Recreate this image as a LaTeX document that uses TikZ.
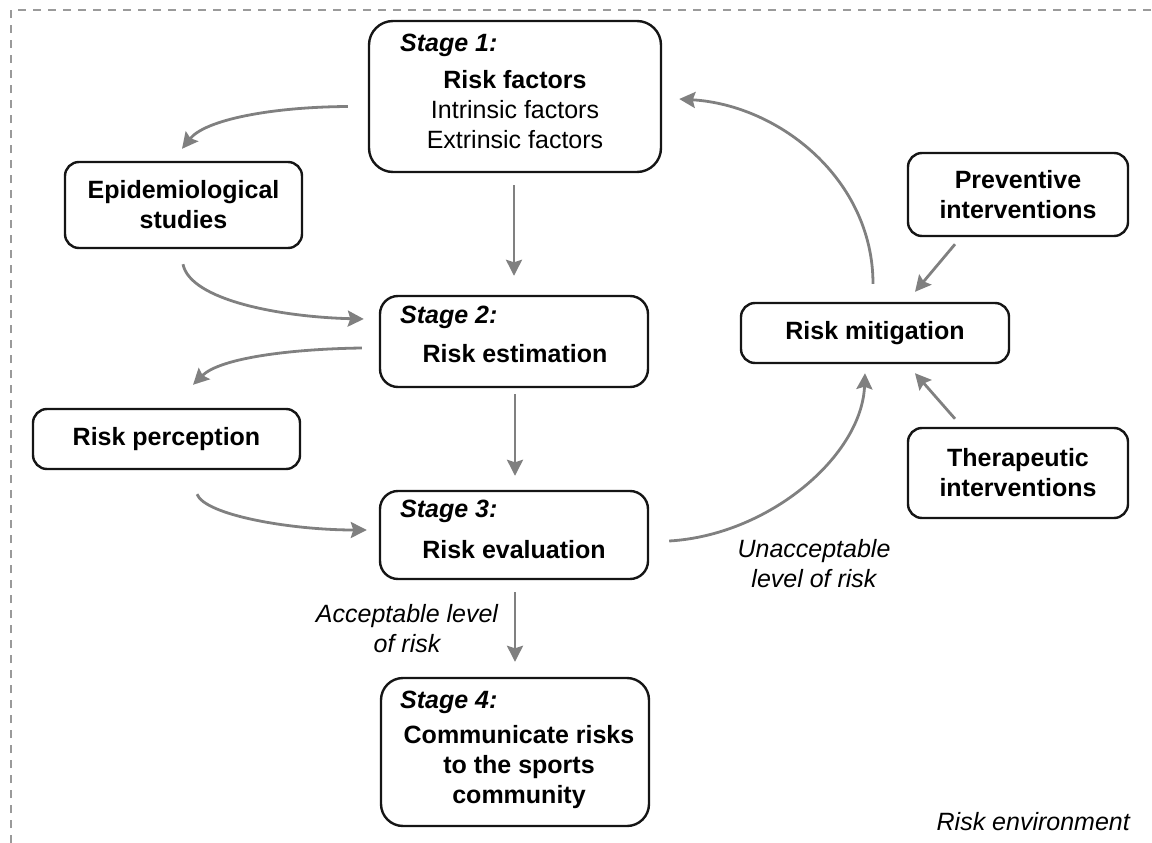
\documentclass[tikz,border=0pt]{standalone}
\usepackage{fontspec}
\setmainfont{Liberation Sans}
\usetikzlibrary{arrows.meta}
\definecolor{arrowgray}{HTML}{808080}
\definecolor{boxline}{HTML}{151515}
\definecolor{framegray}{HTML}{9A9A9A}

\begin{document}
\begin{tikzpicture}[x=1pt,y=-1pt,
  every node/.style={font=\fontsize{25}{30}\selectfont, inner sep=0pt},
  box/.style={draw=boxline, line width=2.4pt, rounded corners=#1, align=center,
    font=\fontsize{25}{30}\selectfont\bfseries},
  box/.default=14pt,
  flow/.style={draw=arrowgray, line width=2.8pt,
    -{Stealth[length=16pt,width=16pt,inset=2.5pt]}},
  stagetag/.style={anchor=base west, font=\fontsize{25}{30}\selectfont\bfseries\itshape},
  body/.style={anchor=base, align=center},
  note/.style={anchor=base, align=center, font=\fontsize{25}{30}\selectfont\itshape}
]
\useasboundingbox (0,0) rectangle (1152,843);

% dashed frame of the risk environment
\draw[framegray, line width=1.6pt, dash pattern=on 8pt off 7pt] (11,843) -- (11,10) -- (1152,10);

% stage boxes (multi-line texts are placed by the baseline of their last line)
\node[box=24pt, minimum width=292pt, minimum height=151pt] (s1) at (515,96.5) {};
\node[stagetag] (s1tag) at (400,52) {Stage 1:};
\node[body] (s1txt) at (515,148) {\textbf{Risk factors}\\Intrinsic factors\\Extrinsic factors};

\node[box=18pt, minimum width=268pt, minimum height=91pt] (s2) at (514,341.5) {};
\node[stagetag] (s2tag) at (400,323) {Stage 2:};
\node[body, font=\fontsize{25}{30}\selectfont\bfseries] (s2txt) at (515,362) {Risk estimation};

\node[box=18pt, minimum width=268pt, minimum height=88pt] (s3) at (514,535) {};
\node[stagetag] (s3tag) at (400,517) {Stage 3:};
\node[body, font=\fontsize{25}{30}\selectfont\bfseries] (s3txt) at (514,558) {Risk evaluation};

\node[box=22pt, minimum width=268pt, minimum height=148pt] (s4) at (515,752) {};
\node[stagetag] (s4tag) at (400,708) {Stage 4:};
\node[body, font=\fontsize{25}{30}\selectfont\bfseries] (s4txt) at (519,803) {Communicate risks\\to the sports\\community};

% side boxes
\node[box, minimum width=237pt, minimum height=86pt] (epi) at (183.5,205) {Epidemiological\\studies};
\node[box, minimum width=267pt, minimum height=60pt] (per) at (166.5,439) {Risk perception};
\node[box, minimum width=268pt, minimum height=60pt] (mit) at (875,333) {Risk mitigation};
\node[box, minimum width=220pt, minimum height=83pt] (prev) at (1018,194.5) {Preventive\\interventions};
\node[box, minimum width=220pt, minimum height=90pt] (ther) at (1018,473) {Therapeutic\\interventions};

% main chain
\draw[flow] ([shift={(-1,12)}]s1.south) -- ([shift={(0,-19)}]s2.north);
\draw[flow] ([shift={(1,6)}]s2.south) -- ([shift={(1,-14)}]s3.north);
\draw[flow] ([shift={(1,12)}]s3.south) -- ([shift={(0,-15)}]s4.north);

% loops through the side boxes
\draw[flow] ([shift={(-20,10)}]s1.west) .. controls (270,107) and (205,120) .. ([shift={(-1.5,-12)}]epi.north);
\draw[flow] ([shift={(-0.5,15)}]epi.south) .. controls (190,300) and (280,317) .. ([shift={(-15,-22.5)}]s2.west);
\draw[flow] ([shift={(-17,6.5)}]s2.west) .. controls (290,349) and (220,358) .. ([shift={(26.5,-23)}]per.north);
\draw[flow] ([shift={(30.5,24)}]per.south) .. controls (205,515) and (290,530) .. ([shift={(-12,-5)}]s3.west);

% mitigation loop
\draw[flow] ([shift={(20,6)}]s3.east) .. controls (770,535) and (862,455) .. ([shift={(-10,9)}]mit.south);
\draw[flow] ([shift={(-2,-18)}]mit.north) .. controls (873,180) and (780,105) .. ([shift={(17,2.5)}]s1.east);
\draw[flow] ([shift={(-63,7)}]prev.south) -- ([shift={(40,-10)}]mit.north);
\draw[flow] ([shift={(-63,-8)}]ther.north) -- ([shift={(40,9)}]mit.south);

% outcome labels
\node[note] (acc) at (407,652) {Acceptable level\\of risk};
\node[note] (unacc) at (814,587) {Unacceptable\\level of risk};
\node[note, anchor=base east] (env) at (1130,830) {Risk environment};
\end{tikzpicture}
\end{document}
